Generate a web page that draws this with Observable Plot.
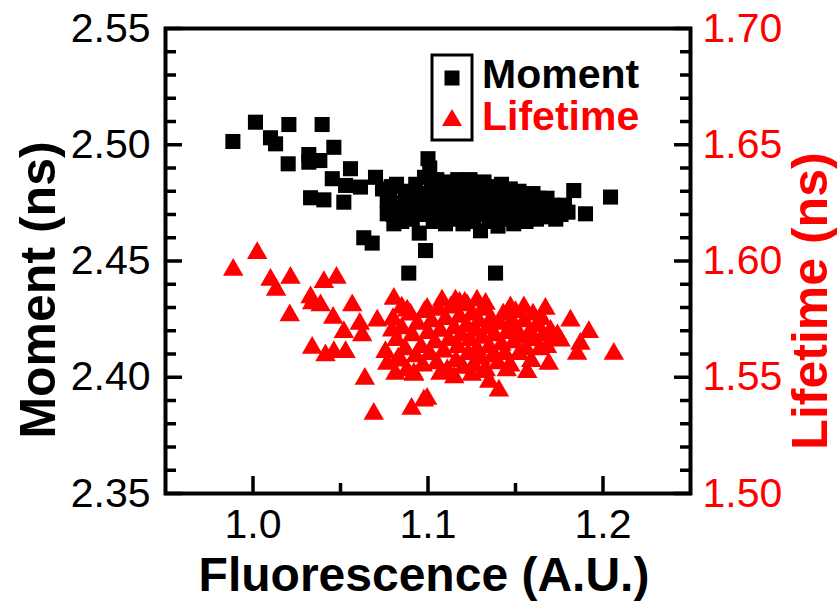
<!DOCTYPE html>
<html>
<head>
<meta charset="utf-8">
<script src="https://cdn.jsdelivr.net/npm/d3@7"></script>
<script src="https://cdn.jsdelivr.net/npm/@observablehq/plot@0.6"></script>
<style>
  html, body { margin: 0; padding: 0; background: white; }
  #chart { width: 840px; height: 607px; }
</style>
</head>
<body>
<div id="chart"></div>
<script>
// Fluorescence (A.U.), Moment (ns)
const momentData = [
  [0.9885,2.5014],[1.0014,2.5097],[1.0100,2.5030],[1.0129,2.5004],[1.0205,2.5087],
  [1.0201,2.4918],[1.0395,2.5087],[1.0319,2.4958],[1.0319,2.4925],[1.0382,2.4932],
  [1.0462,2.4989],[1.0453,2.4854],[1.0557,2.4897],[1.0529,2.4825],[1.0614,2.4818],
  [1.0700,2.4860],[1.0329,2.4772],[1.0405,2.4763],[1.0519,2.4753],[1.0633,2.4600],
  [1.0681,2.4577],[1.0890,2.4448],[1.0767,2.4703],[1.0805,2.4660],[1.0986,2.4545],
  [1.1386,2.4448],[1.2043,2.4775],[1.1900,2.4703],[1.1833,2.4803],[1.0767,2.4760],
  [1.0740,2.4810],[1.0790,2.4820],
  [1.078,2.478],[1.080,2.470],[1.082,2.483],[1.083,2.475],[1.085,2.467],[1.087,2.480],
  [1.088,2.472],[1.090,2.477],[1.091,2.468],[1.093,2.483],[1.094,2.474],[1.095,2.462],
  [1.097,2.479],[1.098,2.486],[1.099,2.470],[1.100,2.494],[1.100,2.476],[1.101,2.490],
  [1.102,2.481],[1.103,2.467],[1.104,2.473],[1.105,2.485],[1.106,2.478],[1.107,2.469],
  [1.108,2.482],[1.109,2.474],[1.110,2.466],[1.111,2.479],[1.112,2.484],[1.113,2.471],
  [1.114,2.476],[1.115,2.468],[1.116,2.481],[1.117,2.485],[1.118,2.473],[1.119,2.478],
  [1.120,2.466],[1.121,2.482],[1.122,2.470],[1.123,2.476],[1.124,2.485],[1.125,2.479],
  [1.126,2.467],[1.127,2.473],[1.128,2.482],[1.129,2.477],[1.130,2.463],[1.131,2.470],
  [1.132,2.484],[1.133,2.479],[1.134,2.474],[1.135,2.467],[1.136,2.482],[1.137,2.476],
  [1.138,2.471],[1.139,2.480],[1.140,2.465],[1.141,2.477],[1.142,2.483],[1.143,2.472],
  [1.144,2.468],[1.145,2.479],[1.146,2.475],[1.147,2.481],[1.148,2.470],[1.149,2.466],
  [1.150,2.477],[1.151,2.473],[1.152,2.480],[1.153,2.469],[1.154,2.475],[1.155,2.478],
  [1.156,2.467],[1.157,2.472],[1.158,2.476],[1.159,2.470],[1.160,2.479],[1.161,2.474],
  [1.162,2.468],[1.163,2.477],[1.164,2.472],[1.165,2.475],[1.166,2.469],[1.167,2.473],
  [1.168,2.477],[1.170,2.470],[1.171,2.474],[1.173,2.468],[1.174,2.472],[1.176,2.470],
  [1.178,2.474],[1.180,2.471]
];

// Fluorescence (A.U.), Lifetime (ns)
const lifetimeData = [
  [0.9887,1.5962],[1.0024,1.6034],[1.0100,1.5919],[1.0214,1.5928],[1.0132,1.5876],
  [1.0210,1.5766],[1.0329,1.5844],[1.0338,1.5818],[1.0386,1.5809],[1.0405,1.5909],
  [1.0477,1.5928],[1.0458,1.5756],[1.0519,1.5694],[1.0567,1.5809],[1.0610,1.5730],
  [1.0624,1.5680],[1.0710,1.5744],[1.0805,1.5837],[1.0338,1.5627],[1.0414,1.5594],
  [1.0462,1.5608],[1.0529,1.5608],[1.0639,1.5493],[1.0690,1.5343],[1.0906,1.5364],
  [1.0881,1.5787],[1.0757,1.5608],[1.0795,1.5701],[1.0843,1.5572],[1.0767,1.5558],
  [1.0814,1.5515],[1.0919,1.5515],[1.0976,1.5400],[1.0995,1.5794],[1.1157,1.5830],
  [1.1224,1.5809],[1.1329,1.5816],[1.1471,1.5801],[1.1548,1.5801],[1.1671,1.5794],
  [1.1814,1.5744],[1.1919,1.5694],[1.2062,1.5601],[1.1852,1.5601],[1.1690,1.5558],
  [1.1567,1.5522],[1.1405,1.5443],[1.0995,1.5407],[1.1071,1.5515],[1.1319,1.5522],
  [1.1757,1.5658],[1.1871,1.5644],
  [1.080,1.575],[1.082,1.566],[1.083,1.558],[1.085,1.571],[1.087,1.562],[1.088,1.553],
  [1.090,1.577],[1.091,1.568],[1.093,1.559],[1.094,1.573],[1.096,1.563],[1.097,1.555],
  [1.098,1.578],[1.100,1.569],[1.101,1.560],[1.102,1.574],[1.104,1.565],[1.105,1.556],
  [1.106,1.579],[1.107,1.570],[1.109,1.561],[1.110,1.575],[1.111,1.553],[1.112,1.566],
  [1.113,1.580],[1.115,1.571],[1.116,1.557],[1.117,1.563],[1.118,1.576],[1.119,1.568],
  [1.120,1.554],[1.121,1.582],[1.122,1.572],[1.123,1.560],[1.124,1.566],[1.125,1.577],
  [1.126,1.555],[1.127,1.570],[1.128,1.562],[1.129,1.574],[1.130,1.558],[1.131,1.567],
  [1.132,1.579],[1.133,1.553],[1.134,1.571],[1.135,1.563],[1.136,1.575],[1.137,1.559],
  [1.138,1.568],[1.140,1.556],[1.141,1.573],[1.142,1.564],[1.143,1.577],[1.144,1.560],
  [1.145,1.569],[1.147,1.555],[1.148,1.574],[1.149,1.565],[1.150,1.571],[1.152,1.560],
  [1.153,1.567],[1.155,1.574],[1.156,1.562],[1.158,1.569],[1.159,1.557],[1.161,1.566],
  [1.162,1.572],[1.164,1.562],[1.166,1.568],[1.168,1.563],[1.170,1.570],[1.172,1.566],
  [1.174,1.568],
  [1.108,1.583],[1.118,1.582],[1.128,1.583],[1.092,1.551],[1.115,1.550],[1.125,1.551],
  [1.150,1.578],[1.160,1.577],[1.165,1.575],[1.085,1.580],[1.145,1.553],[1.135,1.548]
];

const xMajorTicks = [1.0, 1.1, 1.2];
const xMinorTicks = [1.05, 1.15];
const momentMajorTicks = [2.35, 2.40, 2.45, 2.50, 2.55];
const momentMinorTicks = [2.36,2.37,2.38,2.39,2.41,2.42,2.43,2.44,2.46,2.47,2.48,2.49,2.51,2.52,2.53,2.54];
const lifetimeMajorTicks = [1.50, 1.55, 1.60, 1.65, 1.70];
const lifetimeMinorTicks = [1.51,1.52,1.53,1.54,1.56,1.57,1.58,1.59,1.61,1.62,1.63,1.64,1.66,1.67,1.68,1.69];
const xDomain = [0.95, 1.25];
const momentDomain = [2.35, 2.55];
const lifetimeDomain = [1.50, 1.70];
const seriesNames = ["Moment", "Lifetime"];

const RED = "#ff0000";
// lifetime axis shares the y scale: shift lifetime values onto the moment domain
const shift = momentDomain[0] - lifetimeDomain[0];
const toY = v => v + shift;
const fromY = v => v - shift;

const FONT = "'Liberation Sans', Arial, Helvetica, sans-serif";

const chart = Plot.plot({
  width: 840,
  height: 607,
  marginLeft: 165,
  marginRight: 150,
  marginTop: 28,
  marginBottom: 114,
  style: { fontFamily: FONT, background: "white", color: "black", overflow: "visible" },
  x: { domain: xDomain },
  y: { domain: momentDomain },
  marks: [
    Plot.dot(momentData, { x: d => d[0], y: d => d[1], symbol: "square", r: 8.5, fill: "black", stroke: "none" }),
    Plot.dot(lifetimeData, { x: d => d[0], y: d => toY(d[1]), symbol: "triangle", r: 7.6, fill: RED, stroke: "none" }),
    Plot.frame({ stroke: "black", strokeWidth: 4 }),
    // left axis ticks (inward)
    Plot.axisY({ anchor: "left", ticks: momentMajorTicks, tickSize: -17, strokeWidth: 3.5, fill: "none", label: null }),
    Plot.axisY({ anchor: "left", ticks: momentMinorTicks, tickSize: -11, strokeWidth: 3.5, fill: "none", label: null }),
    Plot.axisY({ anchor: "left", ticks: momentMajorTicks, tickSize: 0, tickPadding: 15, fontSize: 41,
      tickFormat: d => d.toFixed(2), label: null, fill: "black" }),
    // right axis
    Plot.axisY({ anchor: "right", ticks: lifetimeMajorTicks.map(toY), tickSize: -17, strokeWidth: 3.5, fill: "none", label: null }),
    Plot.axisY({ anchor: "right", ticks: lifetimeMinorTicks.map(toY), tickSize: -11, strokeWidth: 3.5, fill: "none", label: null }),
    Plot.axisY({ anchor: "right", ticks: lifetimeMajorTicks.map(toY), tickSize: 0, tickPadding: 12, fontSize: 41,
      tickFormat: d => fromY(d).toFixed(2), label: null, fill: RED }),
    // bottom axis
    Plot.axisX({ anchor: "bottom", ticks: xMajorTicks, tickSize: -17, strokeWidth: 3.5, fill: "none", label: null }),
    Plot.axisX({ anchor: "bottom", ticks: xMinorTicks, tickSize: -10, strokeWidth: 3.5, fill: "none", label: null }),
    Plot.axisX({ anchor: "bottom", ticks: xMajorTicks, tickSize: 0, tickPadding: 15, fontSize: 41,
      tickFormat: d => d.toFixed(1), label: null, fill: "black" }),
    // axis titles
    Plot.text(["Moment (ns)"], { text: d => d, frameAnchor: "left", dx: -127, dy: 29, rotate: -90,
      textAnchor: "middle", fontSize: 50, fontWeight: "bold", fill: "black", lineAnchor: "middle" }),
    Plot.text(["Lifetime (ns)"], { text: d => d, frameAnchor: "right", dx: 120, dy: 40, rotate: -90,
      textAnchor: "middle", fontSize: 50, fontWeight: "bold", fill: RED, lineAnchor: "middle" }),
    Plot.text(["Fluorescence (A.U.)"], { text: d => d, frameAnchor: "bottom", dx: -4, dy: 82,
      textAnchor: "middle", fontSize: 48, fontWeight: "bold", fill: "black", lineAnchor: "middle" })
  ]
});

// Legend (inside plot, top)
const svg = d3.select(chart);
const lg = svg.append("g").attr("font-family", FONT).attr("font-weight", "bold")
  .attr("font-size", 41).attr("text-anchor", "start");
lg.append("rect").attr("x", 432).attr("y", 55).attr("width", 40).attr("height", 85)
  .attr("fill", "none").attr("stroke", "black").attr("stroke-width", 3);
lg.append("rect").attr("x", 444.5).attr("y", 70.5).attr("width", 15).attr("height", 15).attr("fill", "black");
lg.append("polygon").attr("points", "442,126 462,126 452,109").attr("fill", RED);
lg.append("text").attr("x", 482).attr("y", 88).attr("fill", "black").text(seriesNames[0]);
lg.append("text").attr("x", 482).attr("y", 130).attr("fill", RED).text(seriesNames[1]);

document.getElementById("chart").appendChild(chart);
</script>
</body>
</html>
